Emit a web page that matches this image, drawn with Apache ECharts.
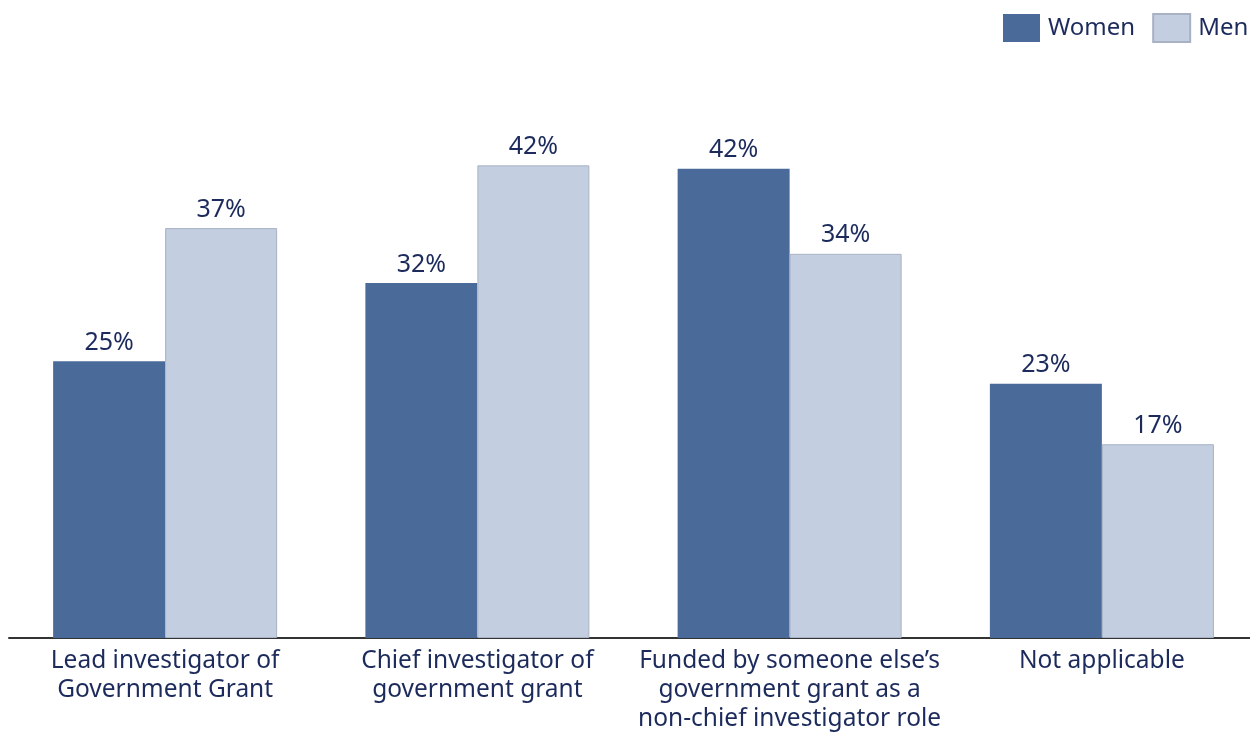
<!DOCTYPE html>
<html>
<head>
<meta charset="utf-8">
<script src="https://cdn.jsdelivr.net/npm/echarts@6/dist/echarts.min.js"></script>
<style>
  html, body { margin: 0; padding: 0; background: #fff; }
  #chart { width: 1250px; height: 733px; }
</style>
</head>
<body>
<div id="chart"></div>
<script>
// 数据（按图中柱高读取，标签取整显示）
const categories = [
  'Lead investigator of\nGovernment Grant',
  'Chief investigator of\ngovernment grant',
  'Funded by someone else\u2019s\ngovernment grant as a\nnon-chief investigator role',
  'Not applicable'
];
const women = [24.7, 31.7, 41.9, 22.7];
const men = [36.6, 42.2, 34.3, 17.3];

const textColor = '#1c2b5c';
const fontFamily = '"Noto Sans", sans-serif';

const pctLabel = {
  show: true,
  position: 'top',
  distance: 6,
  formatter: (p) => Math.round(p.value) + '%',
  fontSize: 25,
  color: textColor,
  fontFamily: fontFamily
};

const chart = echarts.init(document.getElementById('chart'));
const option = {
  animation: false,
  textStyle: { fontFamily: fontFamily },
  legend: {
    orient: 'horizontal',
    left: 1003,
    top: 13,
    width: 400,
    padding: 0,
    icon: 'rect',
    itemWidth: 37,
    itemHeight: 28,
    itemGap: 17,
    textStyle: { fontSize: 24, color: textColor, fontFamily: fontFamily, padding: [0, 0, 0, 3] },
    data: ['Women', 'Men']
  },
  grid: {
    left: 9,
    top: 78,
    width: 1249,
    height: 560,
    outerBoundsMode: 'none',
    containLabel: false
  },
  xAxis: {
    type: 'category',
    data: categories,
    axisLine: { lineStyle: { color: '#333', width: 2 } },
    axisTick: { show: false },
    axisLabel: {
      interval: 0,
      color: textColor,
      fontSize: 24.5,
      lineHeight: 29,
      margin: 9,
      fontFamily: fontFamily
    }
  },
  yAxis: {
    type: 'value',
    min: 0,
    max: 50,
    show: false
  },
  series: [
    {
      name: 'Women',
      type: 'bar',
      data: women,
      barWidth: 112,
      barGap: 0,
      itemStyle: { color: '#4a6b9a' },
      label: pctLabel
    },
    {
      name: 'Men',
      type: 'bar',
      data: men,
      barWidth: 112,
      barGap: 0,
      itemStyle: { color: '#c3cee0', borderColor: '#a8b2c4', borderWidth: 1 },
      label: pctLabel
    }
  ]
};
chart.setOption(option);
</script>
</body>
</html>
